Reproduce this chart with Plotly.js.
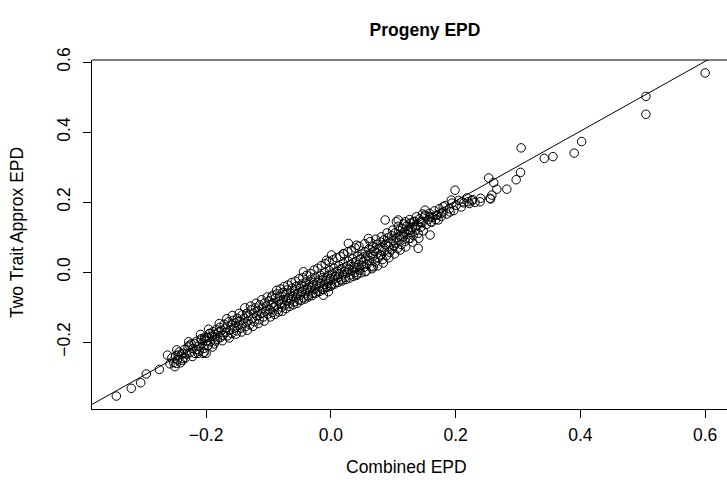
<!DOCTYPE html>
<html>
<head>
<meta charset="utf-8">
<script src="https://cdn.plot.ly/plotly-3.0.1.min.js"></script>
<style>html,body{margin:0;padding:0;background:#fff;}#chart{width:727px;height:496px;}</style>
</head>
<body>
<div id="chart"></div>
<script>
// Combined EPD (x) and Two Trait Approx EPD (y)
const combinedEPD = [
  -0.344,-0.320,-0.305,-0.296,-0.275,-0.262,-0.250,-0.248,-0.237,-0.237,-0.245,-0.227,-0.219,-0.213,-0.205,-0.200,-0.197,-0.202,-0.194,-0.186,-0.208,
  -0.258,-0.255,-0.252,-0.249,-0.246,-0.243,-0.240,-0.238,-0.235,-0.232,-0.229,-0.226,-0.224,-0.221,-0.218,-0.216,-0.213,-0.211,-0.208,-0.206,-0.204,-0.202,-0.200,
  -0.199,-0.197,-0.195,-0.193,-0.191,-0.189,-0.187,-0.186,-0.184,-0.182,-0.180,-0.178,-0.177,-0.175,-0.173,-0.171,-0.169,-0.168,-0.166,-0.164,-0.162,-0.160,-0.159,-0.157,-0.155,-0.153,-0.151,-0.150,-0.148,-0.146,-0.144,-0.142,-0.141,-0.139,-0.137,-0.135,-0.133,-0.132,-0.130,-0.128,-0.126,-0.124,-0.123,-0.121,-0.119,-0.117,-0.115,-0.114,-0.112,-0.110,-0.108,-0.106,-0.105,-0.103,-0.101,
  -0.099,-0.098,-0.096,-0.095,-0.094,-0.092,-0.091,-0.089,-0.088,-0.086,-0.085,-0.083,-0.082,-0.080,-0.079,-0.077,-0.076,-0.074,-0.073,-0.071,-0.070,-0.068,-0.067,-0.065,-0.064,-0.062,-0.061,-0.059,-0.058,-0.056,-0.055,-0.053,-0.052,-0.050,-0.049,-0.047,-0.046,-0.044,-0.043,-0.041,-0.040,-0.038,-0.037,-0.035,-0.034,-0.032,-0.031,-0.029,-0.028,-0.026,-0.025,-0.023,-0.022,-0.020,-0.019,-0.017,-0.016,-0.014,-0.013,-0.011,-0.010,-0.008,-0.007,-0.005,-0.004,-0.002,-0.001,0.001,0.002,0.004,0.005,0.007,0.008,0.010,0.011,0.013,0.014,0.016,0.017,0.019,0.020,0.022,0.023,0.025,0.026,0.028,0.029,0.031,0.032,0.034,0.035,0.037,0.038,0.040,0.041,0.043,0.044,0.046,0.047,0.049,0.050,
  0.052,0.053,0.055,0.056,0.058,0.059,0.061,0.062,0.064,0.065,0.067,0.068,0.070,0.071,0.073,0.074,0.076,0.077,0.079,0.080,0.082,0.083,0.085,0.086,0.088,0.089,0.091,0.092,0.094,0.095,0.097,0.098,0.100,0.101,0.103,0.104,0.106,0.107,0.109,0.110,0.112,0.113,0.115,0.116,0.118,0.119,0.121,0.122,0.124,0.125,0.127,0.128,0.130,0.132,0.134,0.136,0.138,0.140,0.142,0.144,0.146,0.148,
  0.151,0.153,0.156,0.158,0.161,0.163,0.166,0.168,0.171,0.174,0.177,0.180,0.183,0.186,0.190,0.194,0.197,0.201,0.205,0.209,0.213,0.218,0.222,0.227,
  -0.004,-0.012,0.068,0.055,0.041,-0.044,0.001,0.028,0.041,0.060,0.087,0.105,0.020,-0.007,0.079,
  0.255,0.199,0.193,0.210,0.220,0.239,0.180,0.191,0.177,0.169,0.172,0.151,0.151,0.159,0.161,0.143,0.132,0.159,0.145,0.108,0.119,0.127,0.140,0.127,0.135,
  0.600,0.505,0.505,0.402,0.390,0.356,0.342,0.305,0.304,0.297,0.282,0.266,0.253,0.261,0.258,0.256,0.240,0.231,0.226,
  -0.247,-0.241,-0.233,-0.228,-0.222,-0.215,-0.209,-0.203,-0.196,-0.190,-0.185,-0.179,-0.174,-0.167,-0.163,-0.158,-0.152,-0.147,-0.143,-0.138,-0.134,-0.129,-0.125,-0.120,-0.116,-0.111,-0.107,-0.102,
  -0.097,-0.093,-0.090,-0.087,-0.084,-0.081,-0.078,-0.075,-0.072,-0.069,-0.066,-0.063,-0.060,-0.057,-0.054,-0.051,-0.048,-0.045,-0.042,-0.039,-0.036,-0.033,-0.030,-0.027,-0.024,-0.021,-0.018,-0.015,-0.012,-0.009,-0.006,-0.003,0.000,0.003,0.006,0.009,0.012,0.015,0.018,0.021,0.024,0.027,0.030,0.033,0.036,0.039,0.042,0.045,0.048,
  0.054,0.057,0.063,0.066,0.072,0.075,0.081,0.084,0.090,0.093,0.099,0.102,0.108,0.111,0.117,0.120,0.126,0.131,0.137,0.141,0.147
];
const approxEPD = [
  -0.354,-0.332,-0.316,-0.291,-0.278,-0.237,-0.270,-0.261,-0.232,-0.247,-0.237,-0.209,-0.204,-0.232,-0.232,-0.232,-0.209,-0.190,-0.175,-0.185,-0.194,
  -0.262,-0.245,-0.258,-0.239,-0.250,-0.228,-0.236,-0.252,-0.221,-0.234,-0.214,-0.230,-0.205,-0.219,-0.232,-0.198,-0.212,-0.226,-0.190,-0.203,-0.218,-0.186,-0.197,
  -0.187,-0.210,-0.176,-0.199,-0.183,-0.170,-0.205,-0.178,-0.164,-0.192,-0.171,-0.158,-0.187,-0.166,-0.181,-0.149,-0.173,-0.160,-0.182,-0.142,-0.166,-0.151,-0.175,-0.138,-0.160,-0.145,-0.168,-0.132,-0.152,-0.139,-0.160,-0.122,-0.146,-0.131,-0.156,-0.118,-0.140,-0.124,-0.150,-0.108,-0.133,-0.117,-0.141,-0.102,-0.125,-0.110,-0.136,-0.094,-0.118,-0.103,-0.128,-0.088,-0.112,-0.097,-0.120,
  -0.082,-0.108,-0.094,-0.071,-0.115,-0.088,-0.100,-0.074,-0.096,-0.062,-0.107,-0.083,-0.069,-0.091,-0.100,-0.058,-0.078,-0.094,-0.065,-0.083,-0.051,-0.073,-0.090,-0.060,-0.079,-0.046,-0.068,-0.085,-0.054,-0.072,-0.040,-0.061,-0.079,-0.047,-0.066,-0.034,-0.056,-0.073,-0.041,-0.060,-0.028,-0.049,-0.067,-0.036,-0.054,-0.021,-0.043,-0.061,-0.030,-0.048,-0.015,-0.037,-0.055,-0.023,-0.041,-0.009,-0.031,-0.049,-0.016,-0.035,-0.002,-0.024,-0.042,-0.010,-0.028,0.004,-0.018,-0.036,-0.003,-0.021,0.011,-0.011,-0.029,0.003,-0.015,0.018,-0.005,-0.022,0.010,-0.008,0.025,0.002,-0.015,0.016,-0.002,0.031,0.009,-0.008,0.022,0.005,0.038,0.015,-0.001,0.029,0.012,0.045,0.021,0.006,0.036,0.019,0.052,
  0.031,0.014,0.058,0.040,0.022,0.047,0.066,0.033,0.051,0.017,0.072,0.045,0.060,0.029,0.079,0.054,0.040,0.067,0.086,0.049,0.071,0.036,0.092,0.062,0.078,0.047,0.098,0.073,0.057,0.085,0.104,0.066,0.091,0.074,0.112,0.083,0.098,0.068,0.118,0.092,0.106,0.079,0.125,0.100,0.115,0.088,0.131,0.108,0.122,0.096,0.140,0.113,0.128,0.105,0.145,0.121,0.135,0.111,0.152,0.128,0.141,0.118,
  0.160,0.136,0.150,0.168,0.142,0.157,0.175,0.150,0.163,0.181,0.159,0.172,0.190,0.166,0.181,0.197,0.176,0.191,0.205,0.186,0.198,0.212,0.196,0.207,
  -0.056,-0.066,0.015,0.001,-0.009,0.001,0.049,0.082,0.077,0.096,0.149,0.144,0.053,0.034,0.049,
  0.211,0.234,0.206,0.201,0.201,0.201,0.187,0.172,0.168,0.163,0.149,0.177,0.163,0.158,0.144,0.144,0.144,0.106,0.144,0.149,0.144,0.096,0.068,0.120,0.129,
  0.569,0.502,0.451,0.373,0.340,0.330,0.325,0.355,0.285,0.264,0.237,0.237,0.269,0.256,0.220,0.209,0.211,0.199,0.204,
  -0.222,-0.259,-0.245,-0.199,-0.241,-0.221,-0.178,-0.229,-0.163,-0.214,-0.197,-0.147,-0.196,-0.133,-0.188,-0.124,-0.177,-0.118,-0.171,-0.102,-0.166,-0.097,-0.155,-0.089,-0.147,-0.079,-0.140,-0.071,
  -0.128,-0.066,-0.121,-0.052,-0.114,-0.048,-0.112,-0.041,-0.104,-0.037,-0.098,-0.030,-0.093,-0.026,-0.089,-0.019,-0.081,-0.016,-0.077,-0.009,-0.071,-0.004,-0.067,0.006,-0.060,0.011,-0.055,0.019,-0.050,0.024,-0.044,0.030,-0.040,0.035,-0.034,0.041,-0.029,0.045,-0.025,0.052,-0.021,0.058,-0.017,0.063,-0.012,0.069,-0.006,0.074,-0.002,
  0.081,0.003,0.087,0.010,0.094,0.018,0.101,0.026,0.112,0.041,0.120,0.052,0.131,0.063,0.138,0.072,0.150,0.086,0.158,0.097,0.166
];
// reference line (abline) coefficients
const lineIntercept = 0.004;
const lineSlope = 0.997;
const xTickVals = [-0.2, 0.0, 0.2, 0.4, 0.6];
const xTickText = ['\u22120.2', '0.0', '0.2', '0.4', '0.6'];
const yTickVals = [-0.2, 0.0, 0.2, 0.4, 0.6];
const yTickText = ['\u22120.2', '0.0', '0.2', '0.4', '0.6'];

const xRange = [-0.383, 0.635];
const yRange = [-0.391, 0.606];

const font = 'Liberation Sans, Arial, Helvetica, sans-serif';
const axisFontSize = 17.5;

const traces = [
  {
    x: combinedEPD, y: approxEPD, type: 'scatter', mode: 'markers',
    marker: {symbol: 'circle-open', size: 8.5, color: '#000', line: {width: 1, color: '#000'}},
    hoverinfo: 'x+y', showlegend: false
  },
  {
    x: xRange, y: xRange.map(v => lineIntercept + lineSlope * v),
    type: 'scatter', mode: 'lines', line: {color: '#000', width: 1},
    showlegend: false, hoverinfo: 'skip'
  }
];

const layout = {
  width: 727, height: 496,
  margin: {l: 92, r: 0, t: 60, b: 87, pad: 0},
  paper_bgcolor: '#fff', plot_bgcolor: '#fff',
  font: {family: font, size: axisFontSize, color: '#000'},
  title: {text: '<b>Progeny EPD</b>', font: {family: font, size: 17.5, color: '#000'},
          x: (425 - 92) / 635, xanchor: 'center', xref: 'paper', y: 1 - 30 / 496, yanchor: 'middle', yref: 'container'},
  xaxis: {
    range: xRange, showgrid: false, zeroline: false,
    showline: true, linecolor: '#000', linewidth: 1,
    ticks: 'outside', ticklen: 8, tickwidth: 1, tickcolor: '#000',
    tickvals: xTickVals, ticktext: xTickText,
    tickfont: {family: font, size: axisFontSize, color: '#000'},
    ticklabelstandoff: 2,
    title: {text: ''}
  },
  yaxis: {
    range: yRange, showgrid: false, zeroline: false,
    showline: true, linecolor: '#000', linewidth: 1,
    ticks: 'outside', ticklen: 8, tickwidth: 1, tickcolor: '#000',
    tickvals: yTickVals, ticktext: yTickText, tickangle: -90,
    tickfont: {family: font, size: axisFontSize, color: '#000'},
    ticklabelstandoff: 6,
    title: {text: ''}
  },
  shapes: [
    {type: 'line', xref: 'paper', yref: 'paper', x0: 0, x1: 1, y0: 1, y1: 1, line: {color: '#000', width: 1}}
  ],
  annotations: [
    {text: 'Combined EPD', xref: 'paper', yref: 'paper', x: (406 - 92) / 635, y: -(467 - 409) / 349, xanchor: 'center', yanchor: 'middle',
     showarrow: false, font: {family: font, size: axisFontSize, color: '#000'}},
    {text: 'Two Trait Approx EPD', xref: 'paper', yref: 'paper', x: -(92 - 17) / 635, y: (409 - 233) / 349, xanchor: 'center', yanchor: 'middle',
     textangle: -90, showarrow: false, font: {family: font, size: axisFontSize, color: '#000'}}
  ]
};

Plotly.newPlot('chart', traces, layout, {staticPlot: true, displayModeBar: false});
</script>
</body>
</html>
